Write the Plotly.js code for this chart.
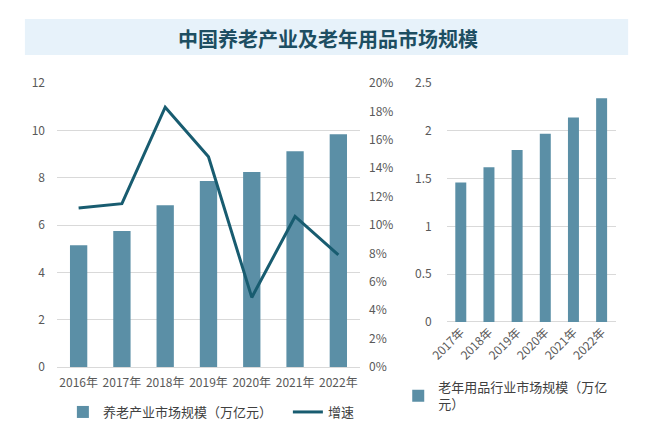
<!DOCTYPE html>
<html>
<head>
<meta charset="utf-8">
<script src="https://cdn.plot.ly/plotly-3.0.1.min.js"></script>
<style>html,body{margin:0;padding:0;background:#fff;}#chart{width:655px;height:427px;}</style>
</head>
<body>
<div id="chart"></div>
<script>
// Data
const titleText = '中国养老产业及老年用品市场规模';
const yearsLeft = ['2016年','2017年','2018年','2019年','2020年','2021年','2022年'];
const industryScale = [5.15, 5.75, 6.84, 7.86, 8.24, 9.12, 9.84];
const growthRate = [11.2, 11.5, 18.3, 14.8, 4.9, 10.6, 7.9];
const yearsRight = ['2017年','2018年','2019年','2020年','2021年','2022年'];
const productsScale = [1.46, 1.62, 1.80, 1.97, 2.14, 2.34];
const nameIndustry = '养老产业市场规模（万亿元）';
const nameGrowth = '增速';
const nameProducts = '老年用品行业市场规模（万亿<br>元）';

const barColor = '#5b8fa6';
const lineColor = '#185c70';
const tickFont = {family: '"Noto Sans CJK SC", sans-serif', size: 12, color: '#595959'};
const legendFont = {family: '"Noto Sans CJK SC", sans-serif', size: 13, color: '#404040'};

const traces = [
  {type: 'bar', x: yearsLeft, y: industryScale, name: nameIndustry, marker: {color: barColor},
   width: 0.4, xaxis: 'x', yaxis: 'y', legend: 'legend', hoverinfo: 'skip'},
  {type: 'scatter', mode: 'lines', x: yearsLeft, y: growthRate, name: nameGrowth,
   line: {color: lineColor, width: 3}, xaxis: 'x', yaxis: 'y2', legend: 'legend', hoverinfo: 'skip'},
  {type: 'bar', x: yearsRight, y: productsScale, name: nameProducts, marker: {color: barColor},
   width: 0.39, xaxis: 'x3', yaxis: 'y3', legend: 'legend2', hoverinfo: 'skip'}
];

const layout = {
  width: 655, height: 427,
  margin: {l: 0, r: 0, t: 0, b: 0},
  paper_bgcolor: '#ffffff', plot_bgcolor: 'rgba(0,0,0,0)',
  font: tickFont,
  showlegend: true,
  xaxis: {domain: [0.087, 0.5496], anchor: 'y', type: 'category', showgrid: false,
          tickfont: tickFont, ticks: '', showline: false, ticklabelstandoff: 7, fixedrange: true},
  yaxis: {domain: [0.1405, 0.8056], range: [0, 12], dtick: 2, tickfont: tickFont,
          gridcolor: '#d9d9d9', gridwidth: 1, zeroline: true, zerolinecolor: '#d9d9d9',
          showline: false, ticks: '', ticklabelstandoff: 11, fixedrange: true},
  yaxis2: {overlaying: 'y', side: 'right', anchor: 'x', range: [0, 20], dtick: 2,
           ticksuffix: '%', showgrid: false, zeroline: false, tickfont: tickFont,
           ticklabelstandoff: 8, fixedrange: true},
  xaxis3: {domain: [0.682, 0.940], anchor: 'y3', type: 'category', showgrid: false,
           tickangle: -45, tickfont: tickFont, ticks: '', fixedrange: true},
  yaxis3: {domain: [0.2459, 0.8056], anchor: 'x3', range: [0, 2.5], dtick: 0.5,
           tickformat: '~g', tickfont: tickFont, gridcolor: '#d9d9d9', zeroline: true,
           zerolinecolor: '#d9d9d9', ticklabelstandoff: 14, fixedrange: true},
  legend: {orientation: 'h', x: 0.096, y: 0.035, xanchor: 'left', yanchor: 'middle',
           font: legendFont, bgcolor: 'rgba(0,0,0,0)',
           entrywidthmode: 'pixels', entrywidth: 180},
  legend2: {orientation: 'v', x: 0.608, y: 0.073, xanchor: 'left', yanchor: 'middle',
            font: legendFont, bgcolor: 'rgba(0,0,0,0)'},
  shapes: [
    {type: 'rect', xref: 'paper', yref: 'paper', x0: 0.038, x1: 0.959, y0: 0.871, y1: 0.9555,
     fillcolor: '#e7f2fa', line: {width: 0}, layer: 'below'}
  ],
  annotations: [
    {text: '<b>' + titleText + '</b>', xref: 'paper', yref: 'paper', x: 0.5015, y: 0.9087,
     xanchor: 'center', yanchor: 'middle', showarrow: false,
     font: {family: '"Noto Sans CJK SC", sans-serif', size: 20, color: '#1d4e62'}}
  ]
};

Plotly.newPlot('chart', traces, layout, {displayModeBar: false, staticPlot: true});
</script>
</body>
</html>
